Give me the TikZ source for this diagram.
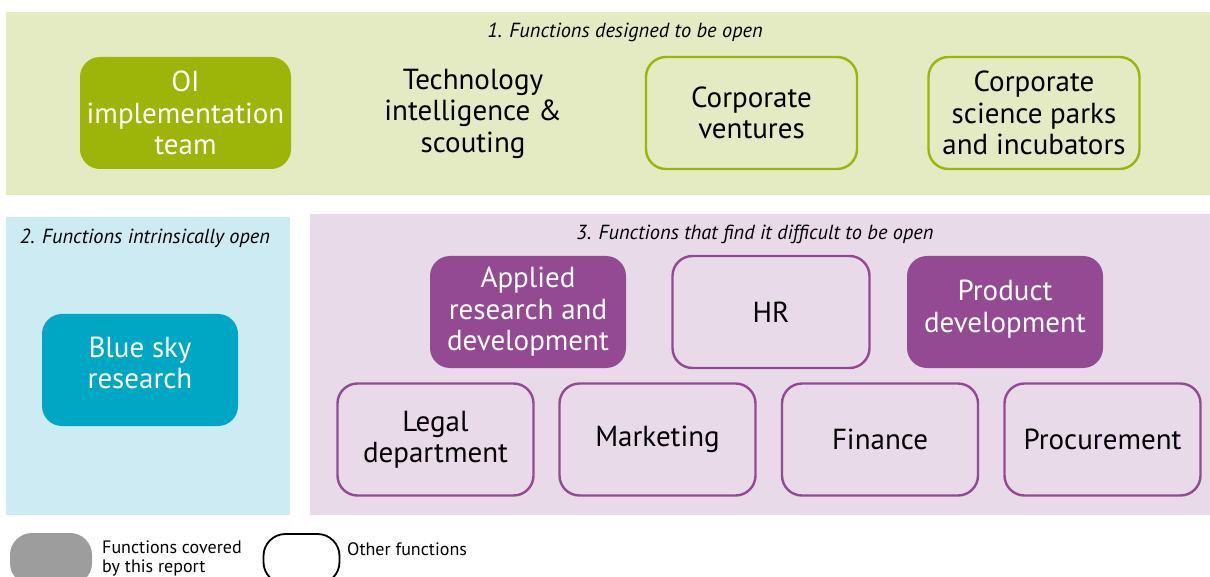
\documentclass[tikz,border=0pt]{standalone}
\usepackage{fontspec}
\setmainfont{PT Sans}
\definecolor{gpanel}{HTML}{E4EBC3}
\definecolor{gfill}{HTML}{9CB508}
\definecolor{bpanel}{HTML}{CCEBF2}
\definecolor{bfill}{HTML}{00A7C5}
\definecolor{ppanel}{HTML}{E9DAEA}
\definecolor{pfill}{HTML}{934A93}
\definecolor{gray1}{HTML}{9D9D9D}
\tikzset{
  fbox/.style={rounded corners=20pt, inner sep=0pt, align=center, text=white,
    font=\fontsize{29}{31.5}\selectfont},
  obox/.style={rounded corners=20pt, inner sep=0pt, align=center, text=black, line width=2.4pt,
    font=\fontsize{29}{31.5}\selectfont},
  plain/.style={inner sep=0pt, align=center, text=black, font=\fontsize{29}{31.5}\selectfont},
  plabel/.style={inner sep=0pt, font=\fontsize{20.4}{24}\selectfont\itshape},
  legtext/.style={inner sep=0pt, align=left, anchor=west, font=\fontsize{18}{19}\selectfont},
}
\begin{document}
\begin{tikzpicture}[x=1pt,y=-1pt]
\useasboundingbox (0,0) rectangle (1210,577);
% panels
\fill[gpanel] (6,12) rectangle (1210,195);
\fill[bpanel] (6,217) rectangle (290,515);
\fill[ppanel] (310,214) rectangle (1210,515);
\node[plabel] (l1) at (625,32) {1. Functions designed to be open};
\node[plabel] (l2) at (145,238) {2. Functions intrinsically open};
\node[plabel] (l3) at (755,234) {3. Functions that find it difficult to be open};
% row 1
\node[fbox, fill=gfill, minimum width=211pt, minimum height=112pt] (oi) at (185.5,113) {OI\\implementation\\team};
\node[plain] (tech) at (473,113.5) {Technology\\intelligence \&\\scouting};
\node[obox, draw=gfill, minimum width=211pt, minimum height=112pt] (cv) at (751.5,113) {Corporate\\ventures};
\node[obox, draw=gfill, minimum width=211pt, minimum height=112pt] (csp) at (1034,113) {Corporate\\science parks\\and incubators};
% blue
\node[fbox, fill=bfill, minimum width=196pt, minimum height=112pt] (bs) at (140,370) {};
\node[plain, text=white] (bst) at (140,363) {Blue sky\\research};
% purple row
\node[fbox, fill=pfill, minimum width=196pt, minimum height=112pt] (ard) at (528,312) {Applied\\research and\\development};
\node[obox, draw=pfill, minimum width=197pt, minimum height=112pt] (hr) at (771,312) {HR};
\node[fbox, fill=pfill, minimum width=196pt, minimum height=112pt] (pd) at (1005,312) {};
\node[plain, text=white] (pdt) at (1005,309) {Product\\development};
\node[obox, draw=pfill, minimum width=196pt, minimum height=112pt] (legal) at (435.5,439.5) {Legal\\department};
\node[obox, draw=pfill, minimum width=196pt, minimum height=112pt] (mkt) at (657.5,439.5) {Marketing};
\node[obox, draw=pfill, minimum width=196pt, minimum height=112pt] (fin) at (880,439.5) {Finance};
\node[obox, draw=pfill, minimum width=196pt, minimum height=112pt] (proc) at (1102.5,439.5) {Procurement};
% legend
\node[fill=gray1, rounded corners=22pt, minimum width=82pt, minimum height=52pt, inner sep=0pt] (lg1) at (51,559) {};
\node[legtext] (lt1) at (102,558.5) {Functions covered\\by this report};
\node[draw=black, line width=1.8pt, rounded corners=22pt, minimum width=76pt, minimum height=50pt, inner sep=0pt] (lg2) at (301.5,559) {};
\node[legtext] (lt2) at (347,549) {Other functions};
\end{tikzpicture}
\end{document}
